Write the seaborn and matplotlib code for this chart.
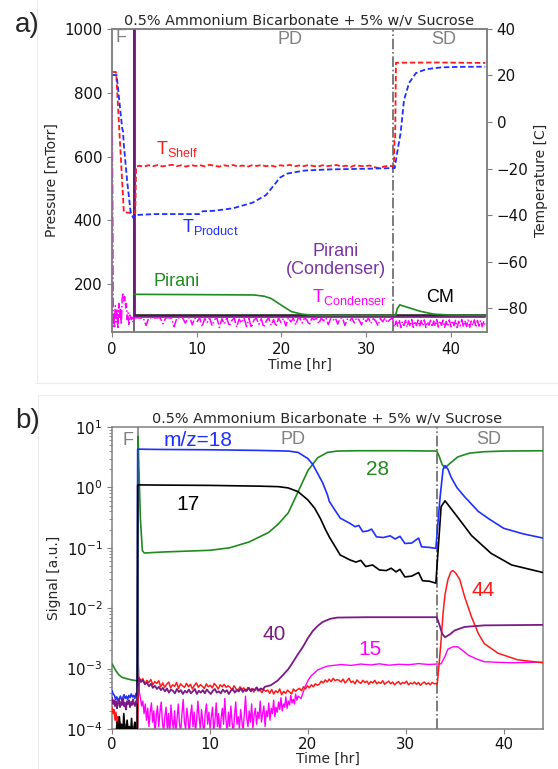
import numpy as np
import matplotlib
matplotlib.use("Agg")
import matplotlib.pyplot as plt
import seaborn as sns
from matplotlib.lines import Line2D

sns.set_style("ticks")
plt.rcParams['font.family'] = ['DejaVu Sans']

TITLE = "0.5% Ammonium Bicarbonate + 5% w/v Sucrose"

# ---------------- panel a) data ----------------
shelf_t_a = [0.0, 0.45, 0.5, 1.4, 2.5, 2.75, 2.85]
shelf_T_a = [21.5, 21.5, 20.8, -38.8, -39.2, -39.2, -19.2]
shelf_T_pd = [-18.8, -19.2, -18.6, -19.0, -18.5, -19.1, -18.7, -18.4, -19.0, -18.6,
              -19.2, -18.5, -18.9, -18.6, -19.1, -18.4, -18.8, -19.2, -18.6, -18.9,
              -18.5, -19.1, -18.7, -19.3, -18.6, -18.9, -18.5, -19.0, -18.7, -19.2,
              -18.6, -18.9, -18.4, -19.1, -18.7, -19.0, -18.5, -18.9, -19.2, -18.6,
              -19.0, -18.7, -18.5, -19.1, -18.8, -19.3, -18.6, -18.9, -19.0, -18.7,
              -19.4, -19.8, -19.2, -18.8, -19.0]
shelf_t_b = [33.3, 33.38, 33.45, 33.55, 38.0, 44.1]
shelf_T_b = [-19.0, -8.0, -8.0, 25.5, 25.6, 25.4]

prod_t = [0.0, 0.55, 1.2, 1.3, 1.4, 1.8, 2.2, 2.5, 2.8, 5.0, 10.3, 10.7, 12.0, 14.3, 16.6,
          18.2, 19.4, 19.8, 20.7, 22.7, 25.5, 30.0, 33.4, 33.7, 34.1, 34.5, 35.1, 35.9,
          37.1, 38.9, 41.0, 44.1]
prod_T = [20.2, 20.2, -2.6, -4.0, -9.9, -25.7, -38.6, -41.2, -40.0, -39.6, -39.6, -38.4,
          -38.2, -37.1, -34.7, -31.4, -26.0, -24.0, -22.2, -20.9, -20.4, -20.1, -19.8,
          -13.0, -4.7, 9.5, 16.8, 21.0, 22.7, 23.5, 23.7, 23.8]

cond_t_a = [0.0, 0.08, 0.15]
cond_T_a = [15.0, -30.0, -88.0]
cond_T_f = [-82, -88, -79, -86, -81, -89, -78, -84, -80, -87, -76, -74, -77, -75, -80,
            -78, -85, -82, -87, -83, -84, -85, -84, -86, -84]
cond_T_pd1 = [-84.2, -84.2, -84.3, -84.2, -87.5, -84.2, -84.2, -84.3, -84.2, -84.2,
              -86.8, -84.2, -84.2, -84.3, -88.0, -84.2, -84.2, -84.2, -86.5, -84.3]
cond_T_pd2 = [-84.2, -87.2, -84.3, -85.8, -84.2, -88.1, -84.4, -86.3, -84.2, -87.6,
              -85.0, -84.3, -88.4, -84.6, -86.9, -84.2, -87.8, -85.4, -84.3, -88.2,
              -84.8, -86.4, -84.2, -87.9, -84.5, -88.5, -85.2, -84.3, -87.0, -84.6,
              -88.3, -85.6, -84.2, -87.4, -84.9, -88.0, -84.3, -86.2, -84.5, -87.7,
              -84.2, -85.9, -84.4, -87.3, -84.2]
cond_T_pd3 = [-84.3, -86.5, -84.2, -85.2, -87.4, -84.3, -85.0, -84.4, -86.8, -84.3,
              -85.5, -84.2, -87.1, -84.6, -85.3, -84.3, -86.9, -84.5, -84.2, -87.5,
              -84.8, -85.6, -84.3, -86.4, -84.2, -85.1, -87.2, -84.4, -85.8, -84.3,
              -86.7, -84.6, -85.4, -87.6, -84.5, -85.9, -84.3, -86.3, -85.0, -84.4]
cond_T_sd = [-85.2, -88.1, -85.6, -87.8, -85.1, -88.4, -85.8, -87.5, -85.3, -88.2,
             -85.5, -87.9, -85.0, -88.3, -85.7, -87.6, -85.2, -88.0, -85.4, -87.7,
             -85.1, -88.4, -85.9, -87.4, -85.3, -88.1, -85.6, -87.8, -85.0, -88.2,
             -85.5, -87.5, -85.2, -88.3, -85.8, -87.9, -85.1, -88.0, -85.4, -87.6,
             -85.3, -88.4, -85.7, -87.7, -85.0, -88.1, -85.5, -87.9, -85.2, -88.2,
             -85.6, -87.5, -85.1, -88.3, -85.4, -87.8, -85.3, -88.0, -85.6, -87.6]

pir_t = [2.62, 2.8, 10.9, 16.8, 18.0, 18.8, 20.0, 21.2, 22.4, 23.5, 24.6, 33.5, 33.7,
         34.0, 35.2, 36.4, 38.0, 40.0, 44.1]
pir_p = [168, 168, 167, 166, 162, 155, 134, 114, 106, 103, 102, 102, 123, 135, 125,
         115, 106, 103, 102]
cm_t = [0.0, 2.6, 2.6, 44.1]
cm_p = [1100, 1100, 102, 102]
pc_t = [0.0, 2.62, 2.62, 44.1]
pc_p = [1100, 1100, 96, 96]

# ---------------- panel b) data ----------------
g_t = [0.0, 0.2, 0.4, 0.7, 1.0, 1.5, 2.0, 2.55, 2.64, 2.66, 2.75, 2.9, 3.1, 3.3, 5.0,
       10.0, 12.0, 14.0, 16.0, 17.0, 18.0, 19.0, 20.0, 21.0, 22.0, 23.0, 25.0, 30.0,
       33.15, 33.4, 33.7, 34.0, 34.5, 35.3, 36.5, 38.0, 40.0, 44.0]
g_v = [1.2e-3, 1.05e-3, 9.2e-4, 7.9e-4, 7.2e-4, 6.8e-4, 6.5e-4, 6.3e-4, 6.3e-4, 7.0,
       2.0, 0.3, 0.09, 0.082, 0.085, 0.091, 0.1, 0.125, 0.18, 0.25, 0.38, 0.85, 1.9,
       3.1, 3.8, 4.0, 4.05, 4.05, 4.0, 3.3, 2.4, 2.1, 2.5, 3.2, 3.7, 3.9, 4.0, 4.05]

b_F_v = [4.3e-4, 3.8e-4, 3.6e-4, 3.1e-4, 3.4e-4, 2.9e-4, 3.2e-4, 3.5e-4, 3.0e-4, 3.3e-4,
         3.7e-4, 3.2e-4, 3.5e-4, 3.1e-4, 3.6e-4, 3.3e-4, 3.8e-4, 3.4e-4, 3.6e-4, 3.2e-4,
         3.9e-4, 3.5e-4]
b_t = [2.62, 2.7, 5, 10, 15, 18, 19, 20, 20.5, 21.0, 21.5, 22.0, 22.2, 23.3, 24.3, 24.8,
       25.2, 25.6, 26.1, 26.5, 27.0, 27.7, 28.4, 28.9, 29.4, 29.9, 30.6, 31.3, 31.6,
       32.3, 33.06, 33.5, 33.8, 34.0, 34.3, 34.6, 35.2, 36.0, 37.4, 38.5, 40.0, 42.0, 44.0]
b_v = [4.3, 4.3, 4.25, 4.2, 4.1, 4.0, 3.8, 3.0, 2.4, 1.7, 1.2, 0.75, 0.58, 0.31, 0.254,
       0.224, 0.235, 0.185, 0.19, 0.204, 0.152, 0.148, 0.158, 0.14, 0.155, 0.118, 0.12,
       0.145, 0.104, 0.102, 0.098, 0.7, 2.0, 2.3, 2.0, 1.5, 1.0, 0.7, 0.4, 0.3, 0.21,
       0.17, 0.145]

k_F_v = [0.6e-4, 0.8e-4, 1.3e-4, 0.7e-4, 1.6e-4, 0.9e-4, 1.2e-4, 0.7e-4, 1.8e-4, 1.0e-4,
         0.8e-4, 1.4e-4, 0.9e-4, 1.1e-4, 0.7e-4, 1.5e-4, 0.8e-4, 1.0e-4, 1.3e-4, 0.7e-4,
         0.9e-4]
k_t = [2.62, 2.7, 10, 15, 17, 18, 19, 20, 20.7, 21.3, 21.8, 22.2, 23.3, 24.3, 24.9, 25.4,
       25.9, 26.6, 27.3, 28.0, 28.5, 29.0, 29.4, 29.9, 30.6, 31.3, 31.7, 32.4, 33.06,
       33.6, 34.0, 35.3, 36.7, 38.7, 40.8, 44.0]
k_v = [1.1, 1.1, 1.08, 1.05, 1.03, 0.98, 0.85, 0.62, 0.45, 0.3, 0.2, 0.15, 0.076, 0.063,
       0.058, 0.062, 0.049, 0.052, 0.043, 0.042, 0.046, 0.04, 0.044, 0.033, 0.034, 0.039,
       0.0285, 0.028, 0.026, 0.48, 0.6, 0.32, 0.16, 0.081, 0.052, 0.039]

# noisy traces, in units of 1e-4
r_F_e4 = [2.3, 1.8, 2.1, 1.4, 1.9, 1.2, 1.6, 0.9, 1.3, 0.8, 1.1, 0.7, 1.0, 0.8, 1.2, 0.7,
          0.9, 0.6, 0.8, 0.7, 0.9, 0.6, 0.8, 0.7, 0.6, 0.7]
r_PD_e4 = [7.2, 6.3, 6.8, 5.6, 6.4, 5.9, 6.6, 5.4, 6.1, 5.7, 6.3,
           5.0, 5.8, 4.9, 5.5, 6.0, 4.8, 5.4, 5.1, 5.9, 4.7, 5.6, 5.2, 4.9, 5.7, 5.0, 5.5,
           4.6, 5.3, 5.8, 4.9, 5.4, 5.1, 4.7, 5.6, 5.0, 5.3, 4.8, 5.7, 5.2, 4.6, 5.4, 5.0,
           5.5, 4.9, 5.2,
           4.9, 4.4, 5.2, 4.6, 4.3, 5.0, 4.5, 4.8, 4.2, 4.9, 4.4, 4.7, 4.1, 4.8, 4.3, 4.6,
           4.0, 4.5, 4.2, 4.4,
           3.9, 4.5, 3.8, 4.3, 4.0, 4.6, 3.7, 4.2, 3.9, 4.4, 4.1, 3.8, 4.6, 4.2, 4.5,
           4.7, 4.3, 5.0, 4.6, 5.2, 4.8, 5.4, 5.0, 5.6, 5.3,
           5.5, 6.2, 5.8, 6.5, 6.0, 6.7, 6.1, 6.9, 6.3, 6.6,
           6.4, 6.0, 6.7, 5.8, 6.3, 6.9, 5.9, 6.2, 5.6, 6.5, 6.0, 5.7, 6.4, 5.9, 6.2, 5.5,
           6.1, 5.8, 6.4, 5.6, 6.0, 5.7, 6.3, 5.5, 5.9, 6.2, 5.6, 6.0, 5.4, 5.8, 6.1, 5.5,
           5.9, 5.7, 6.2, 5.4, 5.8, 5.6, 6.0, 5.5, 5.9, 5.3, 5.7, 6.0, 5.5, 5.8, 5.4, 5.9,
           5.6, 5.7]
r_SD_t = [33.2, 33.4, 33.6, 33.8, 34.0, 34.3, 34.6, 34.8, 35.1, 35.5, 36.0, 36.7, 37.4,
          38.0, 39.4, 41.4, 44.0]
r_SD_v = [5.5e-4, 1.2e-3, 3.0e-3, 8.3e-3, 0.017, 0.03, 0.04, 0.042, 0.038, 0.03, 0.0155,
          7.2e-3, 3.8e-3, 2.6e-3, 1.8e-3, 1.4e-3, 1.25e-3]

p_F_e4 = [3.3, 2.6, 3.0, 2.4, 2.9, 2.2, 2.7, 3.1, 2.3, 2.8, 2.5, 3.2, 2.4, 2.7, 2.1, 2.9,
          2.6, 3.0, 2.3, 2.8, 2.5, 3.1, 2.6, 2.4, 2.9, 2.7]
p_PD_e4 = [6.8, 6.0, 6.4, 5.5, 5.9, 5.1, 5.6, 4.8, 5.2, 4.6, 5.0, 4.4, 4.8, 4.2, 4.7, 4.0,
           4.5, 4.3, 3.9, 4.6, 4.1, 4.4, 3.8, 4.3, 4.0, 4.5, 3.9, 4.2, 4.6, 3.8, 4.3, 4.0,
           4.4, 3.9, 4.5, 4.1, 3.8, 4.3, 4.6, 4.0, 4.2, 3.9, 4.5, 4.1, 4.4, 3.8, 4.3, 4.6,
           4.0, 4.4, 4.2, 4.7, 4.1, 4.5, 4.3, 4.8, 4.2, 4.6, 4.4, 4.9, 4.3, 4.7, 4.5, 5.0]
p_t = [16.2, 16.9, 17.5, 18.0, 18.5, 19.0, 19.5, 20.0, 20.5, 21.0, 21.5, 22.3, 23.0,
       26.0, 30.0, 33.15, 33.4, 33.7, 34.0, 34.5, 35.0, 36.0, 38.0, 44.0]
p_v = [5.3e-4, 6.3e-4, 8.0e-4, 9.8e-4, 1.3e-3, 1.75e-3, 2.3e-3, 3.2e-3, 4.2e-3, 5.1e-3,
       5.9e-3, 6.7e-3, 7.0e-3, 7.1e-3, 7.1e-3, 7.1e-3, 5.5e-3, 3.8e-3, 3.3e-3, 3.7e-3,
       4.3e-3, 4.9e-3, 5.2e-3, 5.3e-3]

m_spike_t = [2.6, 2.64, 2.7, 2.8]
m_spike_v = [5e-5, 6.0, 1.2e-3, 4e-4]
m_PD_e4 = [3.3, 2.4, 2.9, 1.8, 2.6, 1.4, 2.2, 1.1, 1.9, 2.7, 1.3, 2.0, 0.8, 1.7, 2.4, 1.1,
           1.9, 2.8, 1.3, 0.9, 1.6, 2.3, 1.0, 1.8, 0.7, 2.5, 1.4, 1.0, 2.0, 0.8, 1.5, 2.6,
           1.2, 0.9, 1.8, 3.1, 1.3, 1.0, 2.2, 1.5, 0.8, 1.7, 2.5, 1.1, 1.9, 0.9, 1.4, 2.9,
           1.6, 1.0, 2.1, 1.3, 0.8, 1.8, 2.6, 1.2, 1.9, 1.0, 1.6, 2.3, 0.9, 1.4, 2.7, 1.1,
           1.8, 0.8, 1.5, 2.2, 1.2, 3.2, 1.4, 0.9, 1.9, 1.1, 2.4, 1.3, 0.8, 1.7, 2.8, 1.2,
           1.6, 1.0, 2.1, 1.4, 0.9, 1.8, 3.5, 1.5, 1.1, 2.0, 1.3, 2.6, 1.0, 1.7, 2.2, 1.2,
           1.9, 1.5, 2.9, 1.3, 1.8, 2.4, 1.1, 2.0, 1.6, 2.7, 1.4, 2.2, 1.8, 3.0, 1.6, 2.3,
           1.9, 2.8, 2.1, 3.3, 2.0, 2.6, 2.3, 3.4, 2.2, 2.9, 2.5, 3.6, 2.7, 3.1, 2.6, 3.8,
           3.0, 3.5]
m_t = [19.3, 19.7, 20.0, 20.3, 20.7, 21.0, 21.5, 22.0, 22.4, 23.4, 24.4, 25.4, 26.4,
       27.3, 28.3, 29.3, 30.3, 31.3, 32.3, 33.3, 33.6, 34.0, 34.3, 34.8, 35.3, 35.8,
       36.4, 37.2, 38.0, 39.5, 41.0, 44.0]
m_v = [3.2e-4, 5.0e-4, 6.3e-4, 7.5e-4, 8.6e-4, 9.5e-4, 1.03e-3, 1.1e-3, 1.12e-3, 1.17e-3,
       1.13e-3, 1.19e-3, 1.15e-3, 1.2e-3, 1.14e-3, 1.18e-3, 1.16e-3, 1.21e-3, 1.17e-3,
       1.19e-3, 1.2e-3, 1.6e-3, 2.1e-3, 2.3e-3, 2.3e-3, 2.0e-3, 1.66e-3, 1.45e-3,
       1.3e-3, 1.27e-3, 1.25e-3, 1.28e-3]

E4 = 1e-4


def seg(t_list, v_list, scale=1.0):
    return list(t_list), [x * scale for x in v_list]


def grid(t0, t1, vals, scale=1.0):
    return list(np.linspace(t0, t1, len(vals))), [x * scale for x in vals]


def join(*parts):
    t, v = [], []
    for pt, pv in parts:
        t += list(pt)
        v += list(pv)
    return np.array(t, float), np.array(v, float)


def line(ax, t, v, color, ls='-', lw=1.2, z=2, dashes=None):
    sns.lineplot(x=t, y=v, ax=ax, color=color, linestyle=ls, linewidth=lw,
                 estimator=None, sort=False, zorder=z, legend=False)
    if dashes is not None:
        ax.get_lines()[-1].set_dashes(dashes)


SPINE = '#808080'
RED, BLUE, GREEN, MAG, PURP = '#ff1a1a', '#1f2fff', '#1f8a1f', '#ff00ff', '#7b1a86'
ANN = 'Liberation Sans'

fig = plt.figure(figsize=(5.58, 7.69), dpi=100)
axA = fig.add_axes([0.2007, 0.5683, 0.6720, 0.3940])
axT = axA.twinx()
axB = fig.add_axes([0.2007, 0.0520, 0.7724, 0.3927])

# ---- panel a ----
line(axA, *join(seg(cm_t, cm_p)), '#2a2a2a', lw=1.9, z=3)
line(axA, *join(seg(pc_t, pc_p)), PURP, lw=1.2, z=4)
line(axA, *join(seg(pir_t, pir_p)), GREEN, lw=1.2, z=5)

shelf = join(seg(shelf_t_a, shelf_T_a), grid(3.2, 33.2, shelf_T_pd), seg(shelf_t_b, shelf_T_b))
line(axT, *shelf, RED, ls='--', lw=1.3, dashes=(3, 1.5))
line(axT, np.array(prod_t), np.array(prod_T), BLUE, ls='--', lw=1.3, dashes=(3, 1.5))
cond = join(seg(cond_t_a, cond_T_a), grid(0.2, 2.6, cond_T_f), grid(2.7, 9.0, cond_T_pd1),
            grid(9.2, 22.0, cond_T_pd2), grid(22.2, 33.1, cond_T_pd3),
            grid(33.2, 44.1, cond_T_sd))
line(axT, *cond, MAG, ls='-.', lw=1.1)

axA.axvline(2.6, color='#555555', lw=1.2, zorder=1)
axA.axvline(33.15, color='#666666', lw=1.2, ls='-.', zorder=1)

axA.set_xlim(0, 44.3)
axA.set_ylim(50, 1000)
axT.set_ylim(-90.3, 40)
axA.set_xticks([0, 10, 20, 30, 40])
axA.set_yticks([200, 400, 600, 800, 1000])
axT.set_yticks([-80, -60, -40, -20, 0, 20, 40])
axA.set_xlabel("Time [hr]", fontsize=10, labelpad=1)
axA.set_ylabel("Pressure [mTorr]", fontsize=10)
axT.set_ylabel("Temperature [C]", fontsize=10)
axA.set_title(TITLE, fontsize=10.4, pad=3)

# ---- panel b ----
axB.set_yscale('log')
line(axB, *join(seg(g_t, g_v)), GREEN, lw=1.2, z=3)
line(axB, *join(grid(0.0, 2.58, b_F_v), seg(b_t, b_v)), BLUE, lw=1.2, z=4)
line(axB, *join(grid(0.3, 2.56, k_F_v), seg(k_t, k_v)), 'black', lw=1.2, z=4)
line(axB, *join(grid(0.0, 2.55, r_F_e4, E4), grid(2.75, 33.1, r_PD_e4, E4),
                seg(r_SD_t, r_SD_v)), RED, lw=1.1, z=3)
line(axB, *join(grid(0.0, 2.55, p_F_e4, E4), grid(2.75, 15.6, p_PD_e4, E4),
                seg(p_t, p_v)), PURP, lw=1.3, z=4)
line(axB, *join(seg(m_spike_t, m_spike_v), grid(2.9, 19.0, m_PD_e4, E4), seg(m_t, m_v)),
     MAG, lw=1.0, z=2)

axB.axvline(2.65, color='#808080', lw=1.2, zorder=1)
axB.axvline(33.15, color='#666666', lw=1.2, ls='-.', zorder=1)
axB.set_xlim(0, 44)
axB.set_ylim(1e-4, 10)
axB.set_xticks([0, 10, 20, 30, 40])
axB.set_xlabel("Time [hr]", fontsize=10, labelpad=0)
axB.set_ylabel("Signal [a.u.]", fontsize=10)
axB.set_title(TITLE, fontsize=10.4, pad=3)

for ax in (axA, axT, axB):
    for s in ax.spines.values():
        s.set_color(SPINE)
        s.set_linewidth(1.1)
    ax.tick_params(which='both', colors=SPINE, labelcolor='#111111', labelsize=10.8)
    ax.tick_params(which='major', length=3.5)
    ax.tick_params(which='minor', length=2)
axB.tick_params(axis='x', pad=2.5)

# ---- annotations panel a ----
axA.text(1.1, 973, "F", color='#808080', fontsize=13, family=ANN, ha='center', va='center')
axA.text(21.0, 966, "PD", color='#808080', fontsize=13, family=ANN, ha='center', va='center')
axA.text(39.2, 966, "SD", color='#808080', fontsize=13, family=ANN, ha='center', va='center')
axA.text(5.2, 609, r"$\mathregular{T_{Shelf}}$", color=RED, fontsize=13, family=ANN,
         ha='left', va='baseline')
axA.text(8.25, 362, r"$\mathregular{T_{Product}}$", color=BLUE, fontsize=13, family=ANN,
         ha='left', va='baseline')
axA.text(4.86, 194, "Pirani", color=GREEN, fontsize=13, family=ANN, ha='left', va='baseline')
axA.text(26.4, 275, "Pirani\n(Condenser)", color='#7a35a3', fontsize=13, family=ANN,
         ha='center', va='center', multialignment='center', linespacing=1.05)
axA.text(23.6, 144, r"$\mathregular{T_{Condenser}}$", color=MAG, fontsize=13, family=ANN,
         ha='left', va='baseline')
axA.text(38.8, 144, "CM", color='black', fontsize=13, family=ANN, ha='center', va='baseline')

# ---- annotations panel b ----
axB.text(1.63, 10 ** 0.785, "F", color='#808080', fontsize=13, family=ANN, ha='center', va='center')
axB.text(18.5, 10 ** 0.79, "PD", color='#808080', fontsize=13, family=ANN, ha='center', va='center')
axB.text(38.5, 10 ** 0.79, "SD", color='#808080', fontsize=13, family=ANN, ha='center', va='center')
axB.text(8.76, 10 ** 0.77, "m/z=18", color=BLUE, fontsize=15, family=ANN, ha='center', va='center')
axB.text(7.75, 10 ** -0.283, "17", color='black', fontsize=15, family=ANN, ha='center', va='center')
axB.text(27.1, 10 ** 0.296, "28", color=GREEN, fontsize=15, family=ANN, ha='center', va='center')
axB.text(16.6, 10 ** -2.43, "40", color=PURP, fontsize=15, family=ANN, ha='center', va='center')
axB.text(26.3, 10 ** -2.69, "15", color=MAG, fontsize=15, family=ANN, ha='center', va='center')
axB.text(37.9, 10 ** -1.70, "44", color=RED, fontsize=15, family=ANN, ha='center', va='center')

# ---- panel letters & faint frames ----
fig.text(0.027, 0.967, "a)", fontsize=20, family=ANN, ha='left', va='center')
fig.text(0.027, 0.4525, "b)", fontsize=20, family=ANN, ha='left', va='center')
for (x0, x1, y0, y1) in [(0.063, 1.0, 0.502, 0.502), (0.068, 1.0, 0.4863, 0.4863),
                         (0.068, 0.068, 0.0, 0.4863), (0.066, 0.066, 0.502, 1.0)]:
    fig.add_artist(Line2D([x0, x1], [y0, y1], transform=fig.transFigure,
                          color='#ececec', lw=0.8))

fig.savefig("out.png", dpi=100)
